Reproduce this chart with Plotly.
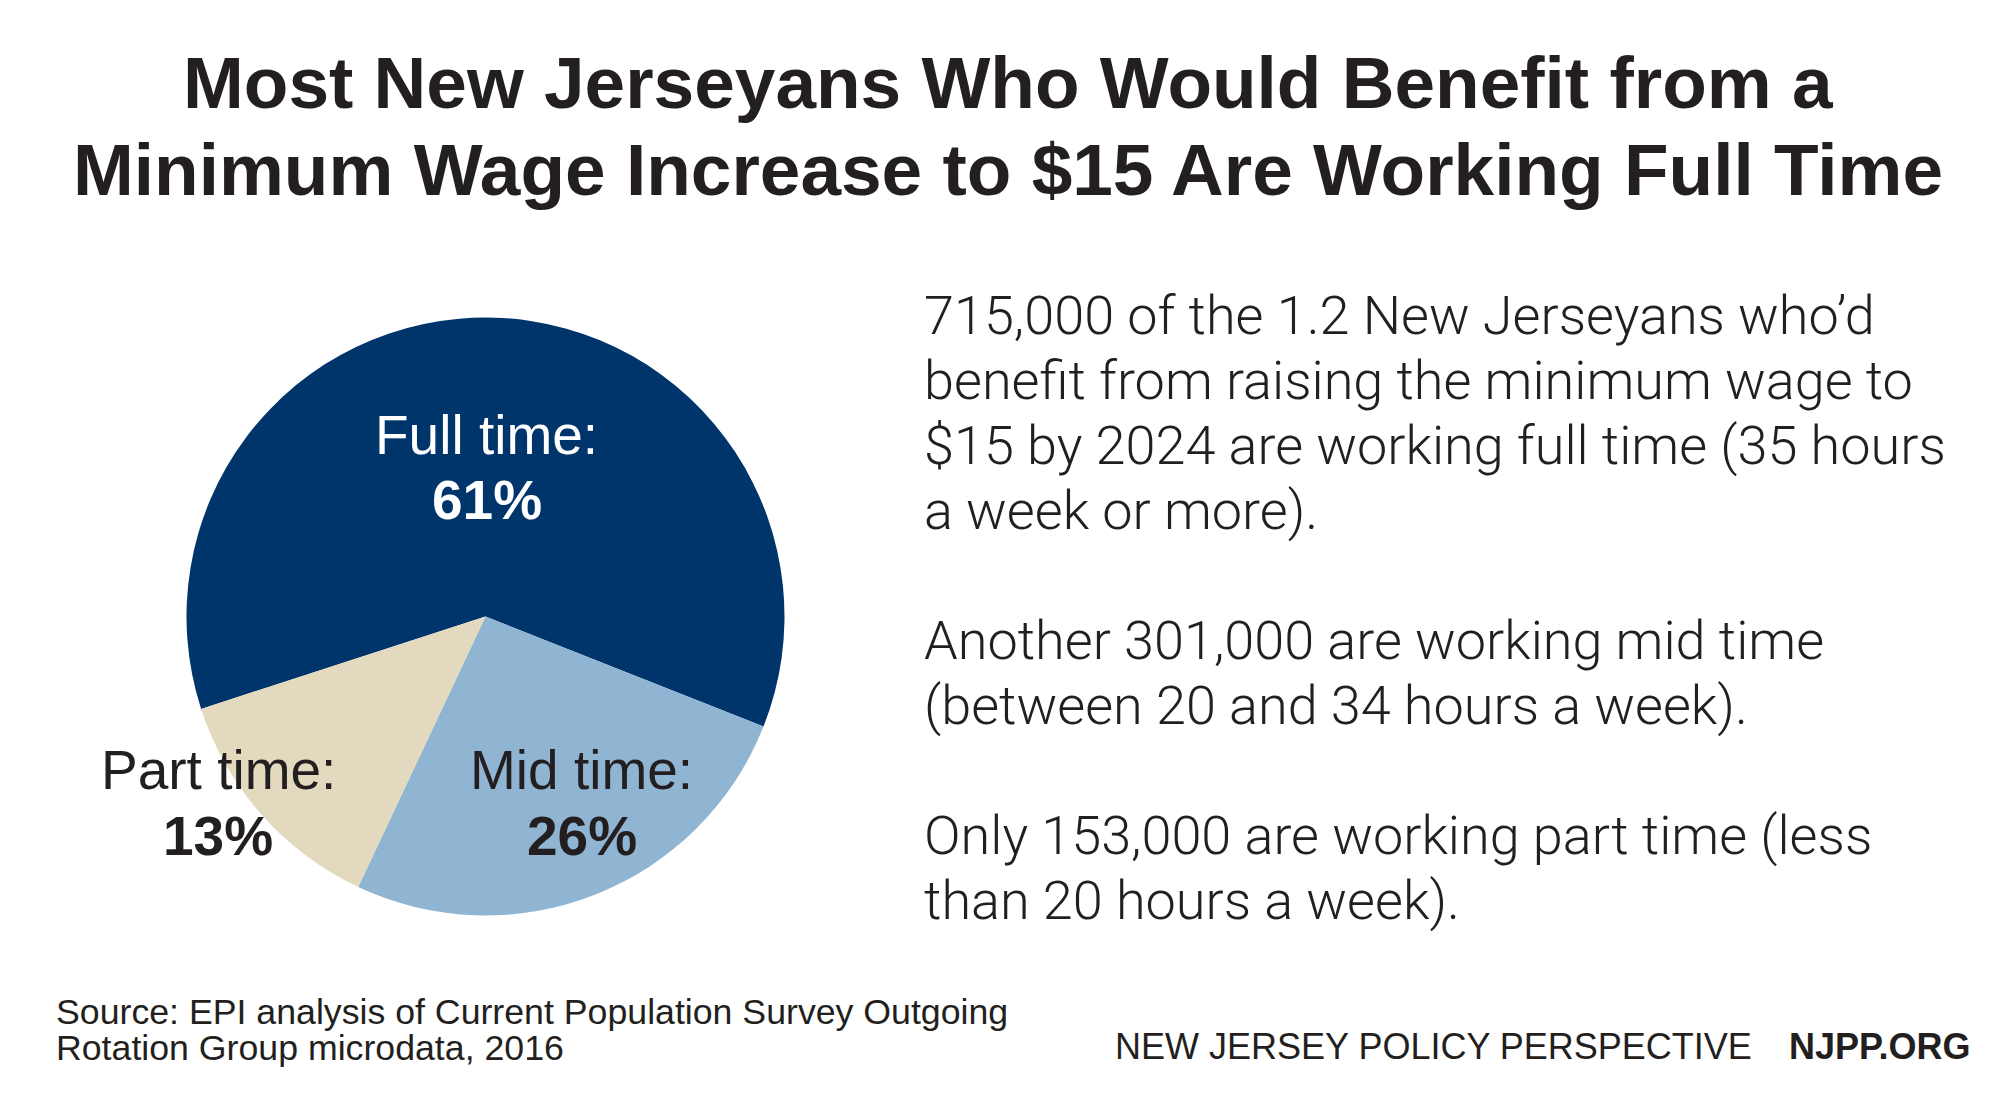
import plotly.graph_objects as go

W, H = 2000, 1104

# ---- data ----
categories = ["Full time", "Mid time", "Part time"]
shares = [61, 26, 13]
slice_colors = ["#00356B", "#8FB5D2", "#E3D9BE"]
label_colors = ["#FFFFFF", "#231F20", "#231F20"]

title_lines = [
    "Most New Jerseyans Who Would Benefit from a",
    "Minimum Wage Increase to $15 Are Working Full Time",
]
body_lines = [
    "715,000 of the 1.2 New Jerseyans who\u2019d",
    "benefit from raising the minimum wage to",
    "$15 by 2024 are working full time (35 hours",
    "a week or more).",
    "",
    "Another 301,000 are working mid time",
    "(between 20 and 34 hours a week).",
    "",
    "Only 153,000 are working part time (less",
    "than 20 hours a week).",
]
source_lines = [
    "Source: EPI analysis of Current Population Survey Outgoing",
    "Rotation Group microdata, 2016",
]
org_name = "NEW JERSEY POLICY PERSPECTIVE"
org_url = "NJPP.ORG"

# ---- layout helpers (pixel positions) ----
def px(x):
    return x / W

def py(y):
    return 1 - y / H

TXT = "#231F20"
BOLD = "Liberation Sans"
LIGHT = "Roboto"

cx, cy, r = 477.5, 608.5, 299

fig = go.Figure(
    go.Pie(
        labels=categories,
        values=shares,
        sort=False,
        direction="clockwise",
        rotation=-108,
        marker=dict(colors=slice_colors, line=dict(width=0)),
        textinfo="none",
        hoverinfo="label+percent",
        domain=dict(x=[px(cx - r), px(cx + r)], y=[py(cy + r), py(cy - r)]),
        showlegend=False,
    )
)

ann = []
# title
for i, t in enumerate(title_lines):
    ann.append(dict(x=0.5, y=py(74.5 + 87 * i), text=t, showarrow=False,
                    xanchor="center", yanchor="middle",
                    font=dict(family=BOLD, size=73, color=TXT, weight="bold")))

# pie labels
label_pos = [(478.5, 426.5, 492), (573.5, 761.5, 827.5), (210, 761.5, 827.5)]
for cat, v, col, (lx, ly1, ly2) in zip(categories, shares, label_colors, label_pos):
    ann.append(dict(x=px(lx), y=py(ly1), text=cat + ":", showarrow=False,
                    xanchor="center", yanchor="middle",
                    font=dict(family=BOLD, size=55, color=col)))
    ann.append(dict(x=px(lx), y=py(ly2), text=f"{v}%", showarrow=False,
                    xanchor="center", yanchor="middle",
                    font=dict(family=BOLD, size=55, color=col, weight="bold")))

# body text
y0, dy = 307.5, 65
for i, t in enumerate(body_lines):
    if not t:
        continue
    ann.append(dict(x=px(914), y=py(y0 + dy * i), text=t, showarrow=False,
                    xanchor="left", yanchor="middle",
                    font=dict(family=LIGHT, size=54, color=TXT, weight=300)))

# source
for i, t in enumerate(source_lines):
    ann.append(dict(x=px(46), y=py(1004 + 36 * i), text=t, showarrow=False,
                    xanchor="left", yanchor="middle",
                    font=dict(family=BOLD, size=35.7, color=TXT)))

ann.append(dict(x=px(1105), y=py(1038), text=org_name, showarrow=False,
                xanchor="left", yanchor="middle",
                font=dict(family=BOLD, size=36, color=TXT)))
ann.append(dict(x=px(1964), y=py(1038), text=org_url, showarrow=False,
                xanchor="right", yanchor="middle",
                font=dict(family=BOLD, size=36, color=TXT, weight="bold")))

fig.update_layout(
    width=W, height=H,
    margin=dict(l=0, r=0, t=0, b=0),
    paper_bgcolor="white", plot_bgcolor="white",
    annotations=ann,
)

fig.write_html("out.html", config={"displayModeBar": False})
